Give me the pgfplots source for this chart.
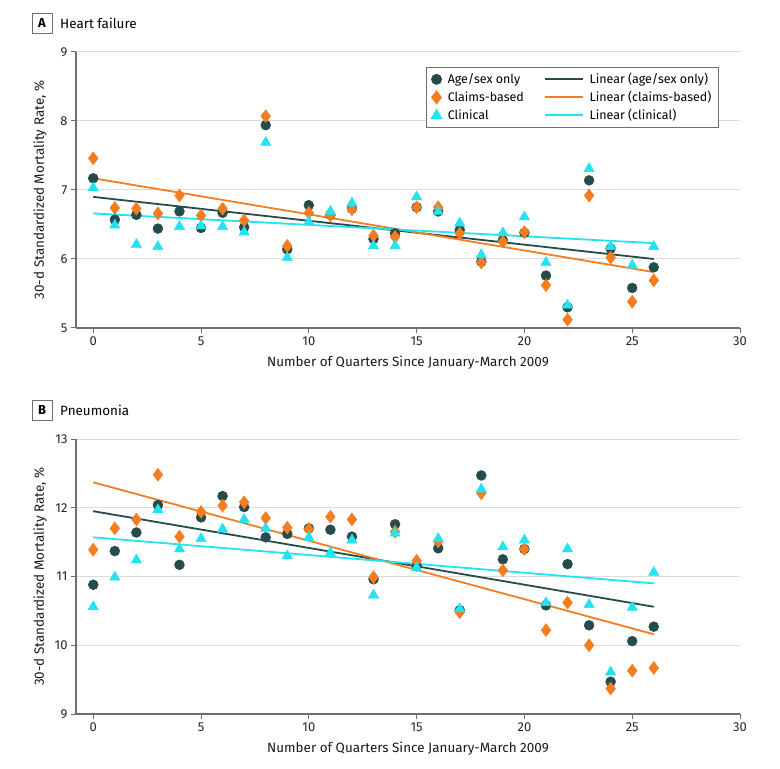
\documentclass[border=0pt]{standalone}
\usepackage{fontspec}
\setmainfont{Fira Sans}
\usepackage{pgfplots}
\usepackage{pgfplotstable}
\pgfplotsset{compat=1.18}

\definecolor{agecol}{HTML}{264B4B}
\definecolor{claimcol}{HTML}{F47D20}
\definecolor{clincol}{HTML}{22E3F0}
\definecolor{axgray}{HTML}{6E6E6E}
\definecolor{gridgray}{HTML}{DCDCDC}

% heart failure
\pgfplotstableread{
x age claims clin
0 7.17 7.46 7.03
1 6.57 6.74 6.49
2 6.64 6.73 6.21
3 6.44 6.66 6.18
4 6.69 6.92 6.47
5 6.45 6.63 6.48
6 6.67 6.73 6.47
7 6.46 6.56 6.39
8 7.94 8.07 7.69
9 6.14 6.19 6.02
10 6.78 6.67 6.54
11 6.64 6.63 6.69
12 6.73 6.72 6.81
13 6.29 6.34 6.19
14 6.37 6.32 6.19
15 6.75 6.75 6.90
16 6.69 6.75 6.69
17 6.42 6.37 6.52
18 5.96 5.95 6.06
19 6.27 6.25 6.38
20 6.38 6.39 6.61
21 5.76 5.62 5.95
22 5.30 5.12 5.33
23 7.14 6.92 7.31
24 6.15 6.02 6.18
25 5.58 5.38 5.91
26 5.88 5.69 6.18
}\hftable

% pneumonia
\pgfplotstableread{
x age claims clin
0 10.88 11.39 10.56
1 11.37 11.70 10.99
2 11.64 11.83 11.24
3 12.04 12.48 11.97
4 11.17 11.58 11.40
5 11.86 11.94 11.55
6 12.17 12.03 11.69
7 12.01 12.08 11.83
8 11.57 11.85 11.70
9 11.62 11.71 11.30
10 11.70 11.69 11.57
11 11.68 11.87 11.35
12 11.58 11.83 11.53
13 10.96 10.99 10.73
14 11.76 11.65 11.63
15 11.15 11.23 11.13
16 11.41 11.51 11.55
17 10.51 10.48 10.53
18 12.47 12.21 12.27
19 11.25 11.09 11.43
20 11.40 11.40 11.53
21 10.58 10.22 10.62
22 11.18 10.62 11.40
23 10.29 10.00 10.59
24 9.47 9.37 9.61
25 10.06 9.63 10.55
26 10.27 9.67 11.06
}\pntable

\pgfplotsset{
  panel/.style={
    scale only axis,
    width=664bp,
    axis x line*=bottom, axis y line*=left,
    axis line style={axgray, line width=1.1bp},
    xmin=-0.8, xmax=30,
    xtick={0,5,...,30},
    ymajorgrids, grid style={gridgray, line width=1bp},
    tick align=outside, major tick length=5bp,
    tick style={axgray, line width=1bp},
    xtick pos=bottom, ytick pos=left,
    tick label style={font=\fontsize{13}{15}\selectfont, text=black!85},
    /pgf/number format/assume math mode=true,
    label style={font=\fontsize{13.5}{16}\selectfont, text=black!90},
    xlabel={Number of Quarters Since January-March 2009},
    ylabel={30-d Standardized Mortality Rate, \%},
    xlabel style={at={(axis description cs:0.5,-0.127)}, anchor=center},
    ylabel style={at={(axis description cs:-0.054,0.5)}, anchor=center},
    clip=false,
  },
  agem/.style={only marks, mark=*, mark size=5bp, color=agecol, mark options={draw=none, fill=agecol}},
  claimm/.style={only marks, mark=diamond*, mark size=6.5bp, color=claimcol, mark options={draw=none, fill=claimcol}},
  clinm/.style={only marks, mark=triangle*, mark size=6bp, color=clincol, mark options={draw=none, fill=clincol}},
  trend/.style={no markers, line width=1.8bp},
}

\begin{document}
\begin{tikzpicture}
\useasboundingbox (0,0) rectangle (780bp,769bp);

% panel titles
\node[draw=axgray, line width=0.9bp, minimum width=20bp, minimum height=20bp, inner sep=0pt,
  font=\fontsize{13}{15}\selectfont\bfseries] at (42bp,746bp) {A};
\node[anchor=west, inner sep=0pt, font=\fontsize{13.5}{16}\selectfont] at (60bp,746bp) {Heart failure};
\node[draw=axgray, line width=0.9bp, minimum width=20bp, minimum height=20bp, inner sep=0pt,
  font=\fontsize{13}{15}\selectfont\bfseries] at (42bp,359bp) {B};
\node[anchor=west, inner sep=0pt, font=\fontsize{13.5}{16}\selectfont] at (60bp,359bp) {Pneumonia};

\begin{axis}[panel, at={(76bp,441bp)}, anchor=south west, height=276bp,
  ymin=5, ymax=9, ytick={5,6,7,8,9},
  legend columns=2, legend cell align=left,
  legend style={at={(axis description cs:0.527,0.946)}, anchor=north west,
    draw=axgray, line width=0.9bp, fill=white,
    font=\fontsize{12.5}{15}\selectfont, row sep=2bp, inner xsep=5bp, inner ysep=4bp,
    /tikz/every odd column/.append style={column sep=4bp},
    /tikz/every even column/.append style={column sep=18bp}},
]
\addlegendimage{agem}\addlegendentry{Age/sex only}
\addlegendimage{legend image code/.code={\draw[agecol,line width=1.8bp] (0bp,0bp) -- (38bp,0bp);}}\addlegendentry{Linear (age/sex only)}
\addlegendimage{claimm}\addlegendentry{Claims-based}
\addlegendimage{legend image code/.code={\draw[claimcol,line width=1.8bp] (0bp,0bp) -- (38bp,0bp);}}\addlegendentry{Linear (claims-based)}
\addlegendimage{clinm}\addlegendentry{Clinical}
\addlegendimage{legend image code/.code={\draw[clincol,line width=1.8bp] (0bp,0bp) -- (38bp,0bp);}}\addlegendentry{Linear (clinical)}

\addplot[trend, agecol, forget plot] coordinates {(0,6.90) (26,6.00)};
\addplot[trend, claimcol, forget plot] coordinates {(0,7.17) (26,5.81)};
\addplot[trend, clincol, forget plot] coordinates {(0,6.66) (26,6.23)};
\addplot[agem, forget plot] table[x=x, y=age] {\hftable};
\addplot[claimm, forget plot] table[x=x, y=claims] {\hftable};
\addplot[clinm, forget plot] table[x=x, y=clin] {\hftable};
\end{axis}

\begin{axis}[panel, at={(76bp,55bp)}, anchor=south west, height=275bp,
  ymin=9, ymax=13, ytick={9,10,11,12,13},
]
\addplot[trend, agecol] coordinates {(0,11.95) (26,10.56)};
\addplot[trend, claimcol] coordinates {(0,12.37) (26,10.16)};
\addplot[trend, clincol] coordinates {(0,11.57) (26,10.90)};
\addplot[agem] table[x=x, y=age] {\pntable};
\addplot[claimm] table[x=x, y=claims] {\pntable};
\addplot[clinm] table[x=x, y=clin] {\pntable};
\end{axis}
\end{tikzpicture}
\end{document}
